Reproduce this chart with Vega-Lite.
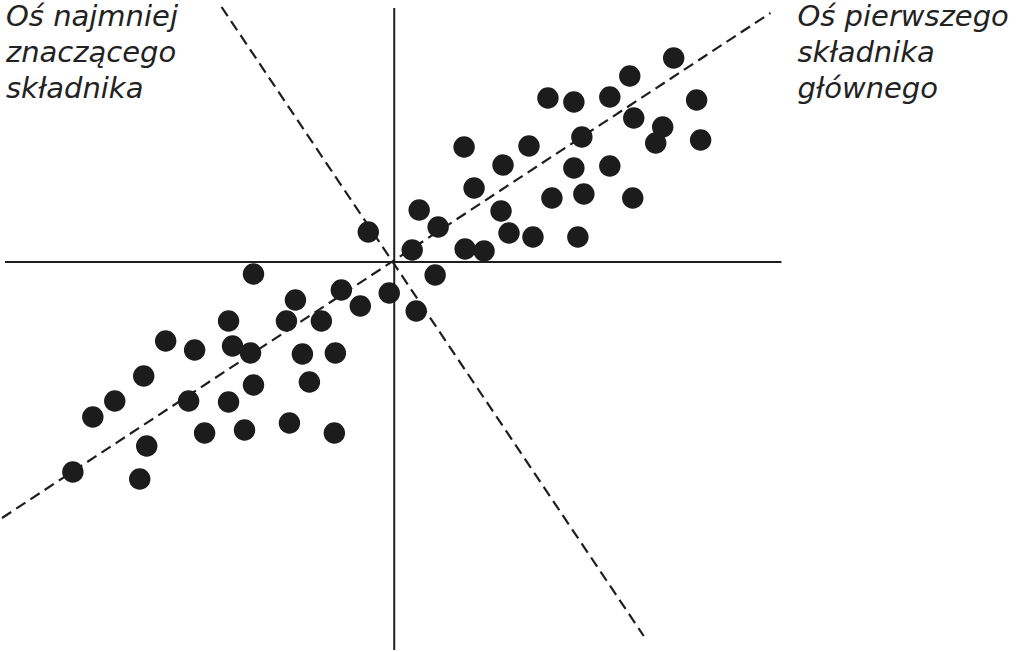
{
  "$schema": "https://vega.github.io/schema/vega-lite/v6.json",
  "autosize": {"type": "fit", "contains": "padding"},
  "width": 1020,
  "height": 652,
  "padding": 0,
  "background": "white",
  "config": {"view": {"stroke": null}},
  "datasets": {
    "points": [
      {"x": 280, "y": 204}, {"x": 236, "y": 186}, {"x": 154, "y": 164}, {"x": 180, "y": 160},
      {"x": 216, "y": 165}, {"x": 303, "y": 162}, {"x": 240, "y": 144}, {"x": 269, "y": 135},
      {"x": 262, "y": 119}, {"x": 307, "y": 122}, {"x": 188, "y": 125}, {"x": 70, "y": 115},
      {"x": 135, "y": 116}, {"x": 109, "y": 97}, {"x": 180, "y": 94}, {"x": 216, "y": 96},
      {"x": 80, "y": 74}, {"x": 158, "y": 64}, {"x": 190, "y": 68}, {"x": 239, "y": 64},
      {"x": 25, "y": 52}, {"x": 107, "y": 51}, {"x": 44, "y": 35}, {"x": 115, "y": 29},
      {"x": 139, "y": 25}, {"x": 184, "y": 25}, {"x": 18, "y": 12}, {"x": 71, "y": 13},
      {"x": 90, "y": 11}, {"x": 41, "y": -13}, {"x": -26, "y": 30},
      {"x": -141, "y": -12}, {"x": -99, "y": -38}, {"x": -53, "y": -28}, {"x": -5, "y": -31},
      {"x": -34, "y": -44}, {"x": 22, "y": -49}, {"x": -166, "y": -59}, {"x": -108, "y": -59},
      {"x": -73, "y": -59}, {"x": -229, "y": -79}, {"x": -200, "y": -88}, {"x": -162, "y": -84},
      {"x": -144, "y": -91}, {"x": -92, "y": -92}, {"x": -59, "y": -91}, {"x": -251, "y": -114},
      {"x": -141, "y": -123}, {"x": -85, "y": -120}, {"x": -280, "y": -139}, {"x": -302, "y": -155},
      {"x": -206, "y": -139}, {"x": -166, "y": -140}, {"x": -190, "y": -171}, {"x": -150, "y": -168},
      {"x": -105, "y": -161}, {"x": -60, "y": -171}, {"x": -248, "y": -184}, {"x": -322, "y": -210},
      {"x": -255, "y": -217}
    ],
    "axes": [
      {"name": "x", "x1": -390, "y1": 0, "x2": 388, "y2": 0},
      {"name": "y", "x1": 0, "y1": 254, "x2": 0, "y2": -388}
    ],
    "components": [
      {"name": "PC1", "x1": -393, "y1": -256, "x2": 377, "y2": 249},
      {"name": "PC-min", "x1": -173, "y1": 255, "x2": 250, "y2": -374}
    ],
    "labels": [
      {"line": "Oś najmniej", "x": -389, "y": 236},
      {"line": "znaczącego", "x": -389, "y": 200},
      {"line": "składnika", "x": -389, "y": 164},
      {"line": "Oś pierwszego", "x": 404, "y": 236},
      {"line": "składnika", "x": 404, "y": 200},
      {"line": "głównego", "x": 404, "y": 164}
    ]
  },
  "layer": [
    {
      "data": {"name": "axes"},
      "mark": {"type": "rule", "stroke": "#1e1e1e", "strokeWidth": 2},
      "encoding": {
        "x": {"field": "x1", "type": "quantitative", "scale": {"domain": [-393, 627], "nice": false, "zero": false}, "axis": null},
        "y": {"field": "y1", "type": "quantitative", "scale": {"domain": [-390, 262], "nice": false, "zero": false}, "axis": null},
        "x2": {"field": "x2"},
        "y2": {"field": "y2"}
      }
    },
    {
      "data": {"name": "components"},
      "mark": {"type": "rule", "stroke": "#1e1e1e", "strokeWidth": 2.2, "strokeDash": [11, 6]},
      "encoding": {
        "x": {"field": "x1", "type": "quantitative"},
        "y": {"field": "y1", "type": "quantitative"},
        "x2": {"field": "x2"},
        "y2": {"field": "y2"}
      }
    },
    {
      "data": {"name": "points"},
      "mark": {"type": "circle", "size": 460, "fill": "#1c1c1c", "opacity": 1, "stroke": null},
      "encoding": {
        "x": {"field": "x", "type": "quantitative"},
        "y": {"field": "y", "type": "quantitative"}
      }
    },
    {
      "data": {"name": "labels"},
      "mark": {"type": "text", "font": "DejaVu Sans", "fontStyle": "italic", "fontSize": 29, "align": "left", "baseline": "alphabetic", "fill": "#222222"},
      "encoding": {
        "x": {"field": "x", "type": "quantitative"},
        "y": {"field": "y", "type": "quantitative"},
        "text": {"field": "line"}
      }
    }
  ]
}
